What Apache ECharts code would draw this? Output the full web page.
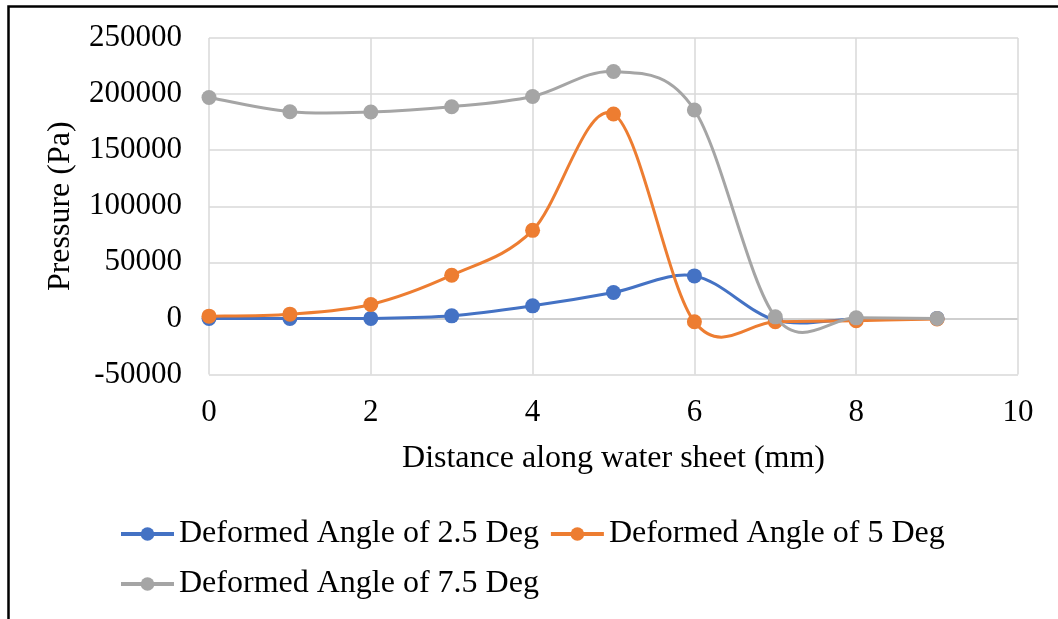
<!DOCTYPE html>
<html>
<head>
<meta charset="utf-8">
<script src="https://cdn.jsdelivr.net/npm/echarts@6/dist/echarts.min.js"></script>
<style>
  html, body { margin: 0; padding: 0; background: #fff; }
  #chart { width: 1058px; height: 619px; }
</style>
</head>
<body>
<div id="chart"></div>
<script>
// Distance along the water sheet (mm)
const distance = [0, 1, 2, 3, 4, 5, 6, 7, 8, 9];

// Pressure (Pa) for each deformed angle
const angle2_5 = [0, 0, 0, 2300, 11200, 23100, 37900, -1500, -500, 0];
const angle5 = [2000, 3800, 12400, 38500, 78500, 182200, -3000, -3000, -2000, -500];
const angle7_5 = [197000, 184300, 184000, 188700, 197900, 220100, 185800, 1400, 500, 0];

const seriesNames = [
  'Deformed Angle of 2.5 Deg',
  'Deformed Angle of 5 Deg',
  'Deformed Angle of 7.5 Deg'
];
const seriesColors = ['#4472C4', '#ED7D31', '#A5A5A5'];
const seriesValues = [angle2_5, angle5, angle7_5];

const FONT = '"Liberation Serif", "Times New Roman", serif';
const FS_TICK = 31;
const FS_TEXT = 32;

const chart = echarts.init(document.getElementById('chart'));

// Smooth curve segment between point i and i+1 (Catmull-Rom style Bezier),
// positioned through the axes with api.coord.
function curveRenderer(vals, color) {
  return function (params, api) {
    const i = params.dataIndex;
    if (i >= vals.length - 1) return null;
    const at = (k) => {
      const kk = Math.max(0, Math.min(vals.length - 1, k));
      return api.coord([distance[kk], vals[kk]]);
    };
    const p0 = at(i - 1), p1 = at(i), p2 = at(i + 1), p3 = at(i + 2);
    const t = 1 / 6;
    const c1 = [p1[0] + (p2[0] - p0[0]) * t, p1[1] + (p2[1] - p0[1]) * t];
    const c2 = [p2[0] - (p3[0] - p1[0]) * t, p2[1] - (p3[1] - p1[1]) * t];
    return {
      type: 'bezierCurve',
      shape: {
        x1: p1[0], y1: p1[1],
        cpx1: c1[0], cpy1: c1[1],
        cpx2: c2[0], cpy2: c2[1],
        x2: p2[0], y2: p2[1]
      },
      style: { stroke: color, lineWidth: 3, fill: null, lineCap: 'round' },
      silent: true
    };
  };
}

// Markers (and legend entries) for each series
const markerSeries = seriesValues.map((vals, i) => ({
  name: seriesNames[i],
  type: 'line',
  z: 3 + i * 2,
  data: distance.map((d, k) => [d, vals[k]]),
  symbol: 'circle',
  symbolSize: 15,
  showSymbol: true,
  lineStyle: { color: seriesColors[i], width: 3, opacity: 0 },
  itemStyle: { color: seriesColors[i] },
  emphasis: { disabled: true }
}));

// Smoothed connecting curves
const curveSeries = seriesValues.map((vals, i) => ({
  name: seriesNames[i],
  type: 'custom',
  z: 2 + i * 2,
  coordinateSystem: 'cartesian2d',
  data: distance.map((d, k) => [d, vals[k]]),
  renderItem: curveRenderer(vals, seriesColors[i]),
  encode: { x: 0, y: 1 },
  silent: true
}));

const legendText = { fontFamily: FONT, fontSize: FS_TEXT, color: '#000' };
const legendItem = (i) => ({
  name: seriesNames[i],
  itemStyle: { color: seriesColors[i] },
  lineStyle: { color: seriesColors[i], width: 4, opacity: 1 }
});

chart.setOption({
  animation: false,
  backgroundColor: '#fff',
  grid: { left: 209, right: 40, top: 38, bottom: 244.5, containLabel: false },
  xAxis: {
    type: 'value',
    min: 0, max: 10, interval: 2,
    name: 'Distance along water sheet (mm)',
    nameLocation: 'middle',
    nameGap: 68,
    nameTextStyle: { fontFamily: FONT, fontSize: FS_TEXT, color: '#000' },
    axisLine: { show: false },
    axisTick: { show: false },
    axisLabel: { fontFamily: FONT, fontSize: FS_TICK, color: '#000', margin: 23 },
    splitLine: { show: true, lineStyle: { color: '#d9d9d9', width: 1.5 } }
  },
  yAxis: {
    type: 'value',
    min: -50000, max: 250000, interval: 50000,
    name: 'Pressure (Pa)',
    nameLocation: 'middle',
    nameGap: 132,
    nameRotate: 90,
    nameTextStyle: { fontFamily: FONT, fontSize: FS_TEXT, color: '#000' },
    axisLine: { show: false },
    axisTick: { show: false },
    axisLabel: {
      fontFamily: FONT, fontSize: FS_TICK, color: '#000', margin: 27,
      formatter: (v) => String(v)
    },
    splitLine: {
      show: true,
      lineStyle: {
        color: ['#d9d9d9', '#bfbfbf', '#d9d9d9', '#d9d9d9', '#d9d9d9', '#d9d9d9', '#d9d9d9'],
        width: 1.5
      }
    }
  },
  legend: [
    {
      data: [legendItem(0), legendItem(1)],
      left: 114, top: 513,
      itemWidth: 53, itemHeight: 17, itemGap: 10,
      textStyle: legendText
    },
    {
      data: [legendItem(2)],
      left: 114, top: 563,
      itemWidth: 53, itemHeight: 17, itemGap: 10,
      textStyle: legendText
    }
  ],
  graphic: [
    {
      type: 'polyline',
      shape: { points: [[8.5, 700], [8.5, 6.5], [1100, 6.5]] },
      style: { stroke: '#000', lineWidth: 2.5, fill: null },
      silent: true
    }
  ],
  series: markerSeries.concat(curveSeries)
});
</script>
</body>
</html>
